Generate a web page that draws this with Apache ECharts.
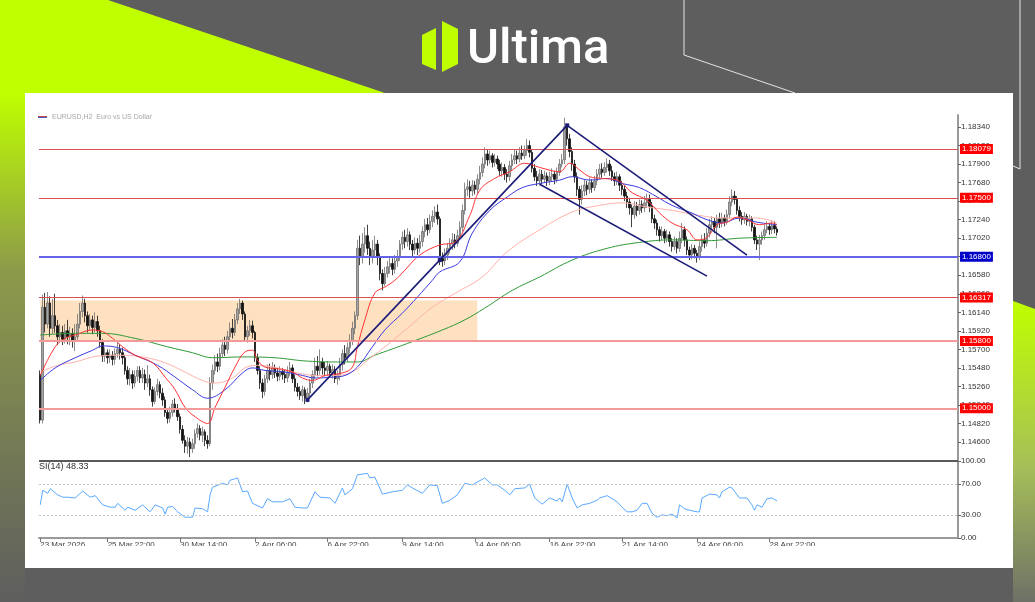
<!DOCTYPE html>
<html>
<head>
<meta charset="utf-8">
<title>EURUSD H2</title>
<script src="https://cdn.jsdelivr.net/npm/echarts@6/dist/echarts.min.js"></script>
<style>
  html, body { margin: 0; padding: 0; background: #5e5e5e; }
  #main { width: 1035px; height: 602px; }
</style>
</head>
<body>
<div id="main"></div>
<script>
// candles, one per 2h bar
const opens = [
  1.1540,1.1486,1.1620,1.1600,1.1625,1.1595,1.1610,1.1598,1.1585,1.1590,
  1.1582,1.1592,1.1585,1.1588,1.1580,1.1585,1.1600,1.1615,1.1625,1.1610,
  1.1598,1.1605,1.1596,1.1603,1.1592,1.1578,1.1562,1.1566,1.1560,1.1563,
  1.1558,1.1565,1.1570,1.1566,1.1560,1.1545,1.1535,1.1540,1.1530,1.1538,
  1.1545,1.1536,1.1540,1.1530,1.1535,1.1522,1.1508,1.1520,1.1528,1.1518,
  1.1510,1.1495,1.1488,1.1495,1.1505,1.1500,1.1490,1.1475,1.1462,1.1455,
  1.1460,1.1452,1.1458,1.1470,1.1476,1.1468,1.1472,1.1462,1.1458,1.1530,
  1.1545,1.1555,1.1550,1.1565,1.1575,1.1570,1.1585,1.1595,1.1590,1.1605,
  1.1618,1.1625,1.1612,1.1585,1.1592,1.1598,1.1590,1.1560,1.1545,1.1530,
  1.1520,1.1535,1.1545,1.1540,1.1548,1.1542,1.1538,1.1544,1.1540,1.1536,
  1.1543,1.1548,1.1535,1.1525,1.1520,1.1515,1.1522,1.1512,1.1518,1.1530,
  1.1540,1.1550,1.1545,1.1555,1.1548,1.1545,1.1550,1.1542,1.1546,1.1535,
  1.1540,1.1552,1.1565,1.1560,1.1572,1.1580,1.1595,1.1610,1.1690,1.1680,
  1.1695,1.1705,1.1690,1.1680,1.1688,1.1695,1.1680,1.1660,1.1648,1.1660,
  1.1668,1.1672,1.1665,1.1675,1.1680,1.1695,1.1703,1.1698,1.1706,1.1695,
  1.1688,1.1696,1.1690,1.1698,1.1710,1.1718,1.1712,1.1722,1.1728,1.1733,
  1.1725,1.1678,1.1675,1.1682,1.1690,1.1695,1.1700,1.1696,1.1705,1.1715,
  1.1735,1.1760,1.1763,1.1758,1.1765,1.1760,1.1772,1.1780,1.1790,1.1802,
  1.1795,1.1800,1.1792,1.1796,1.1790,1.1782,1.1786,1.1778,1.1775,1.1788,
  1.1795,1.1800,1.1796,1.1803,1.1800,1.1806,1.1812,1.1804,1.1785,1.1775,
  1.1770,1.1778,1.1772,1.1776,1.1770,1.1775,1.1778,1.1772,1.1780,1.1790,
  1.1795,1.1834,1.1820,1.1805,1.1790,1.1775,1.1760,1.1748,1.1758,1.1765,
  1.1760,1.1768,1.1762,1.1770,1.1778,1.1784,1.1780,1.1786,1.1790,1.1782,
  1.1775,1.1770,1.1775,1.1765,1.1760,1.1752,1.1745,1.1738,1.1730,1.1740,
  1.1735,1.1742,1.1738,1.1744,1.1748,1.1740,1.1725,1.1720,1.1712,1.1705,
  1.1710,1.1702,1.1706,1.1698,1.1692,1.1698,1.1690,1.1702,1.1712,1.1700,
  1.1688,1.1682,1.1690,1.1684,1.1680,1.1692,1.1700,1.1696,1.1708,1.1718,
  1.1722,1.1715,1.1725,1.1720,1.1726,1.1722,1.1730,1.1745,1.1752,1.1748,
  1.1735,1.1728,1.1724,1.1728,1.1722,1.1725,1.1715,1.1700,1.1695,1.1700,
  1.1705,1.1712,1.1716,1.1712,1.1717,1.1713
]
const closes = [
  1.1486,1.1620,1.1600,1.1625,1.1595,1.1610,1.1598,1.1585,1.1590,1.1582,
  1.1592,1.1585,1.1588,1.1580,1.1585,1.1600,1.1615,1.1625,1.1610,1.1598,
  1.1605,1.1596,1.1603,1.1592,1.1578,1.1562,1.1566,1.1560,1.1563,1.1558,
  1.1565,1.1570,1.1566,1.1560,1.1545,1.1535,1.1540,1.1530,1.1538,1.1545,
  1.1536,1.1540,1.1530,1.1535,1.1522,1.1508,1.1520,1.1528,1.1518,1.1510,
  1.1495,1.1488,1.1495,1.1505,1.1500,1.1490,1.1475,1.1462,1.1455,1.1460,
  1.1452,1.1458,1.1470,1.1476,1.1468,1.1472,1.1462,1.1458,1.1530,1.1545,
  1.1555,1.1550,1.1565,1.1575,1.1570,1.1585,1.1595,1.1590,1.1605,1.1618,
  1.1625,1.1612,1.1585,1.1592,1.1598,1.1590,1.1560,1.1545,1.1530,1.1520,
  1.1535,1.1545,1.1540,1.1548,1.1542,1.1538,1.1544,1.1540,1.1536,1.1543,
  1.1548,1.1535,1.1525,1.1520,1.1515,1.1522,1.1512,1.1518,1.1530,1.1540,
  1.1550,1.1545,1.1555,1.1548,1.1545,1.1550,1.1542,1.1546,1.1535,1.1540,
  1.1552,1.1565,1.1560,1.1572,1.1580,1.1595,1.1610,1.1690,1.1680,1.1695,
  1.1705,1.1690,1.1680,1.1688,1.1695,1.1680,1.1660,1.1648,1.1660,1.1668,
  1.1672,1.1665,1.1675,1.1680,1.1695,1.1703,1.1698,1.1706,1.1695,1.1688,
  1.1696,1.1690,1.1698,1.1710,1.1718,1.1712,1.1722,1.1728,1.1733,1.1725,
  1.1678,1.1675,1.1682,1.1690,1.1695,1.1700,1.1696,1.1705,1.1715,1.1735,
  1.1760,1.1763,1.1758,1.1765,1.1760,1.1772,1.1780,1.1790,1.1802,1.1795,
  1.1800,1.1792,1.1796,1.1790,1.1782,1.1786,1.1778,1.1775,1.1788,1.1795,
  1.1800,1.1796,1.1803,1.1800,1.1806,1.1812,1.1804,1.1785,1.1775,1.1770,
  1.1778,1.1772,1.1776,1.1770,1.1775,1.1778,1.1772,1.1780,1.1790,1.1795,
  1.1834,1.1820,1.1805,1.1790,1.1775,1.1760,1.1748,1.1758,1.1765,1.1760,
  1.1768,1.1762,1.1770,1.1778,1.1784,1.1780,1.1786,1.1790,1.1782,1.1775,
  1.1770,1.1775,1.1765,1.1760,1.1752,1.1745,1.1738,1.1730,1.1740,1.1735,
  1.1742,1.1738,1.1744,1.1748,1.1740,1.1725,1.1720,1.1712,1.1705,1.1710,
  1.1702,1.1706,1.1698,1.1692,1.1698,1.1690,1.1702,1.1712,1.1700,1.1688,
  1.1682,1.1690,1.1684,1.1680,1.1692,1.1700,1.1696,1.1708,1.1718,1.1722,
  1.1715,1.1725,1.1720,1.1726,1.1722,1.1730,1.1745,1.1752,1.1748,1.1735,
  1.1728,1.1724,1.1728,1.1722,1.1725,1.1715,1.1700,1.1695,1.1700,1.1705,
  1.1712,1.1716,1.1712,1.1717,1.1713,1.1709
]
const lows = [
  1.1482,1.1482,1.1590,1.1595,1.1585,1.1588,1.1590,1.1575,1.1578,1.1575,
  1.1577,1.1576,1.1575,1.1572,1.1568,1.1580,1.1595,1.1608,1.1602,1.1590,
  1.1592,1.1588,1.1590,1.1585,1.1572,1.1555,1.1555,1.1553,1.1554,1.1551,
  1.1552,1.1560,1.1558,1.1552,1.1540,1.1528,1.1527,1.1523,1.1525,1.1532,
  1.1530,1.1530,1.1522,1.1525,1.1515,1.1502,1.1505,1.1515,1.1512,1.1503,
  1.1490,1.1482,1.1483,1.1490,1.1495,1.1485,1.1470,1.1458,1.1447,1.1446,
  1.1442,1.1447,1.1452,1.1465,1.1462,1.1460,1.1455,1.1452,1.1455,1.1522,
  1.1540,1.1543,1.1545,1.1560,1.1562,1.1565,1.1580,1.1583,1.1586,1.1600,
  1.1612,1.1605,1.1580,1.1578,1.1586,1.1583,1.1555,1.1540,1.1523,1.1512,
  1.1515,1.1530,1.1533,1.1535,1.1536,1.1532,1.1533,1.1534,1.1530,1.1531,
  1.1538,1.1530,1.1520,1.1514,1.1510,1.1508,1.1505,1.1507,1.1513,1.1524,
  1.1535,1.1538,1.1540,1.1540,1.1538,1.1538,1.1536,1.1535,1.1530,1.1528,
  1.1533,1.1545,1.1552,1.1555,1.1565,1.1575,1.1588,1.1605,1.1670,1.1672,
  1.1685,1.1682,1.1670,1.1672,1.1680,1.1670,1.1652,1.1640,1.1645,1.1655,
  1.1660,1.1658,1.1660,1.1668,1.1675,1.1688,1.1690,1.1692,1.1688,1.1680,
  1.1683,1.1682,1.1685,1.1692,1.1703,1.1705,1.1708,1.1715,1.1720,1.1718,
  1.1670,1.1668,1.1670,1.1676,1.1684,1.1688,1.1690,1.1692,1.1700,1.1710,
  1.1730,1.1752,1.1750,1.1752,1.1754,1.1755,1.1766,1.1775,1.1785,1.1788,
  1.1790,1.1786,1.1787,1.1784,1.1776,1.1775,1.1771,1.1768,1.1770,1.1782,
  1.1790,1.1790,1.1792,1.1795,1.1796,1.1800,1.1798,1.1780,1.1770,1.1764,
  1.1765,1.1766,1.1768,1.1764,1.1765,1.1770,1.1766,1.1768,1.1776,1.1786,
  1.1790,1.1812,1.1798,1.1782,1.1768,1.1752,1.1730,1.1742,1.1752,1.1753,
  1.1755,1.1756,1.1758,1.1765,1.1772,1.1774,1.1776,1.1780,1.1776,1.1770,
  1.1764,1.1765,1.1758,1.1753,1.1746,1.1738,1.1730,1.1715,1.1725,1.1728,
  1.1730,1.1732,1.1733,1.1738,1.1733,1.1720,1.1713,1.1705,1.1698,1.1700,
  1.1696,1.1697,1.1692,1.1686,1.1688,1.1684,1.1686,1.1696,1.1692,1.1682,
  1.1676,1.1677,1.1678,1.1673,1.1676,1.1686,1.1690,1.1692,1.1703,1.1712,
  1.1708,1.1690,1.1714,1.1715,1.1716,1.1718,1.1725,1.1740,1.1742,1.1730,
  1.1722,1.1718,1.1719,1.1717,1.1716,1.1710,1.1695,1.1688,1.1676,1.1694,
  1.1700,1.1708,1.1706,1.1707,1.1708,1.1705
]
const highs = [
  1.1545,1.1635,1.1637,1.1638,1.1633,1.1630,1.1636,1.1605,1.1600,1.1598,
  1.1600,1.1605,1.1597,1.1595,1.1600,1.1612,1.1625,1.1634,1.1630,1.1615,
  1.1612,1.1610,1.1614,1.1610,1.1598,1.1582,1.1572,1.1570,1.1570,1.1568,
  1.1571,1.1578,1.1576,1.1572,1.1563,1.1550,1.1548,1.1545,1.1545,1.1550,
  1.1550,1.1548,1.1546,1.1551,1.1540,1.1526,1.1525,1.1535,1.1532,1.1524,
  1.1514,1.1500,1.1502,1.1510,1.1512,1.1505,1.1494,1.1480,1.1468,1.1466,
  1.1465,1.1464,1.1475,1.1482,1.1480,1.1478,1.1475,1.1468,1.1537,1.1552,
  1.1563,1.1565,1.1572,1.1582,1.1585,1.1592,1.1602,1.1606,1.1612,1.1625,
  1.1630,1.1628,1.1615,1.1598,1.1605,1.1604,1.1592,1.1565,1.1550,1.1535,
  1.1540,1.1552,1.1553,1.1555,1.1552,1.1548,1.1550,1.1548,1.1546,1.1550,
  1.1555,1.1552,1.1540,1.1530,1.1526,1.1527,1.1525,1.1524,1.1535,1.1545,
  1.1560,1.1562,1.1570,1.1560,1.1555,1.1556,1.1553,1.1552,1.1550,1.1545,
  1.1560,1.1570,1.1575,1.1578,1.1588,1.1603,1.1615,1.1700,1.1705,1.1708,
  1.1715,1.1718,1.1698,1.1700,1.1705,1.1700,1.1684,1.1665,1.1668,1.1675,
  1.1680,1.1678,1.1682,1.1688,1.1700,1.1710,1.1712,1.1714,1.1710,1.1700,
  1.1703,1.1702,1.1706,1.1716,1.1725,1.1726,1.1730,1.1735,1.1740,1.1742,
  1.1728,1.1685,1.1690,1.1696,1.1702,1.1708,1.1707,1.1712,1.1722,1.1742,
  1.1768,1.1772,1.1770,1.1771,1.1770,1.1778,1.1788,1.1798,1.1810,1.1808,
  1.1806,1.1803,1.1802,1.1800,1.1795,1.1792,1.1790,1.1784,1.1794,1.1802,
  1.1808,1.1806,1.1810,1.1812,1.1812,1.1820,1.1818,1.1808,1.1790,1.1782,
  1.1784,1.1783,1.1782,1.1780,1.1781,1.1785,1.1782,1.1786,1.1796,1.1802,
  1.1845,1.1838,1.1826,1.1810,1.1795,1.1780,1.1764,1.1765,1.1772,1.1770,
  1.1774,1.1772,1.1776,1.1784,1.1790,1.1791,1.1792,1.1797,1.1795,1.1788,
  1.1780,1.1781,1.1778,1.1770,1.1765,1.1757,1.1750,1.1742,1.1746,1.1745,
  1.1748,1.1747,1.1752,1.1755,1.1754,1.1745,1.1730,1.1724,1.1716,1.1716,
  1.1713,1.1712,1.1710,1.1702,1.1704,1.1702,1.1710,1.1720,1.1716,1.1704,
  1.1692,1.1695,1.1694,1.1688,1.1698,1.1706,1.1708,1.1714,1.1725,1.1728,
  1.1726,1.1730,1.1732,1.1732,1.1730,1.1736,1.1752,1.1760,1.1758,1.1752,
  1.1740,1.1733,1.1733,1.1731,1.1730,1.1728,1.1718,1.1705,1.1706,1.1710,
  1.1718,1.1722,1.1720,1.1723,1.1722,1.1716
]

// moving averages, sampled [bar, price]
const maFast = [[0,1.1539],[6,1.1573],[10,1.1583],[14,1.1587],[21,1.1593],[25,1.1591],[29,1.1583],[33,1.1573],[38,1.1563],[45,1.1554],[50,1.1537],[54,1.1522],[58,1.1501],[62,1.1490],[67,1.1482],[70,1.1501],[74,1.1525],[78,1.1549],[82,1.1567],[85,1.1569],[87,1.1557],[90,1.1549],[95,1.1547],[101,1.1543],[105,1.1536],[109,1.1533],[114,1.1539],[121,1.1542],[125,1.1549],[127,1.1573],[130,1.1605],[134,1.1637],[138,1.1644],[142,1.1652],[146,1.1664],[152,1.1682],[160,1.1694],[166,1.1697],[172,1.1729],[176,1.1759],[182,1.1773],[188,1.1781],[194,1.1791],[200,1.1786],[208,1.1781],[212,1.1791],[216,1.1783],[220,1.1775],[225,1.1773],[231,1.1771],[237,1.1756],[243,1.1747],[248,1.1732],[253,1.1720],[259,1.1712],[263,1.1700],[267,1.1703],[271,1.1718],[275,1.1721],[279,1.1727],[283,1.1724],[288,1.1718],[293,1.1720],[295,1.1718]]
const maMid = [[0,1.1533],[6,1.1548],[14,1.1560],[21,1.1569],[25,1.1574],[31,1.1572],[38,1.1563],[47,1.1551],[54,1.1537],[61,1.1522],[67,1.1512],[74,1.1522],[81,1.1542],[85,1.1548],[90,1.1545],[98,1.1543],[105,1.1539],[110,1.1536],[117,1.1537],[122,1.1539],[127,1.1549],[133,1.1573],[138,1.1593],[145,1.1613],[151,1.1632],[157,1.1652],[160,1.1662],[168,1.1674],[173,1.1708],[180,1.1735],[187,1.1751],[193,1.1762],[200,1.1767],[208,1.1771],[213,1.1775],[220,1.1771],[227,1.1773],[233,1.1767],[240,1.1762],[247,1.1751],[253,1.1741],[260,1.1733],[267,1.1724],[273,1.1720],[280,1.1726],[287,1.1721],[295,1.1718]]
const maSlow = [[0,1.1543],[7,1.1551],[14,1.1555],[23,1.1562],[31,1.1563],[41,1.1561],[50,1.1554],[58,1.1543],[65,1.1533],[70,1.1530],[77,1.1536],[82,1.1548],[87,1.1551],[95,1.1548],[103,1.1542],[111,1.1539],[119,1.1539],[126,1.1545],[131,1.1557],[138,1.1573],[147,1.1595],[157,1.1620],[167,1.1638],[177,1.1656],[187,1.1686],[200,1.1712],[213,1.1733],[224,1.1741],[233,1.1744],[243,1.1739],[253,1.1735],[264,1.1729],[273,1.1726],[287,1.1726],[295,1.1720]]
const maLong = [[0,1.1587],[14,1.1589],[25,1.1589],[38,1.1583],[51,1.1573],[61,1.1566],[69,1.1560],[81,1.1561],[94,1.1560],[107,1.1556],[121,1.1555],[127,1.1555],[134,1.1563],[147,1.1577],[161,1.1593],[170,1.1605],[178,1.1619],[189,1.1640],[200,1.1656],[213,1.1676],[227,1.1690],[240,1.1697],[253,1.1700],[267,1.1699],[280,1.1702],[295,1.1703]]

// RSI(14), sampled [bar, value]
const rsiPoints = [[0,43],[1,62],[3,58],[4,64],[7,56],[9,53],[11,53],[14,52],[17,61],[20,53],[22,55],[25,43],[28,40],[30,40],[31,45],[34,36],[35,40],[38,36],[41,43],[44,34],[46,43],[49,39],[50,31],[51,40],[53,41],[55,34],[58,27],[61,27],[62,39],[65,38],[67,34],[68,56],[69,66],[73,71],[75,69],[76,75],[79,78],[81,60],[83,61],[85,45],[89,39],[91,51],[93,47],[97,47],[100,51],[102,40],[105,39],[107,39],[110,60],[112,53],[116,52],[118,45],[121,65],[122,56],[125,64],[127,82],[131,84],[132,78],[134,79],[137,57],[141,60],[145,62],[147,69],[149,65],[153,58],[156,69],[159,68],[161,45],[164,49],[167,56],[170,71],[173,69],[178,78],[181,69],[183,69],[186,62],[188,56],[190,64],[194,65],[196,70],[198,52],[201,44],[204,52],[207,48],[208,52],[209,47],[211,70],[213,52],[215,39],[217,43],[220,45],[223,49],[224,52],[227,55],[231,47],[233,40],[235,34],[237,34],[239,36],[241,45],[243,45],[245,32],[247,27],[249,30],[251,29],[253,31],[255,26],[256,43],[258,38],[260,36],[263,34],[264,34],[265,52],[268,57],[271,56],[272,52],[273,60],[276,66],[277,65],[280,52],[283,52],[285,43],[286,36],[287,43],[289,40],[291,51],[293,52],[295,48.33]]

const priceTicks = [1.146, 1.1482, 1.1504, 1.1526, 1.1548, 1.157, 1.1592, 1.1614, 1.1636, 1.1658, 1.168, 1.1702, 1.1724, 1.1746, 1.1768, 1.179, 1.1812, 1.1834]
const rsiTicks = [0, 30, 70, 100]
const rsiBands = [30, 70]
const timeTickBars = [0, 27, 56, 86, 115, 145, 174, 204, 233, 263, 292]
const timeLabels = ['23 Mar 2026', '25 Mar 22:00', '30 Mar 14:00', '2 Apr 06:00', '6 Apr 22:00', '9 Apr 14:00', '14 Apr 06:00', '16 Apr 22:00', '21 Apr 14:00', '24 Apr 06:00', '28 Apr 22:00']

// support / resistance levels and drawn objects
const levels = [1.18079, 1.17500, 1.16800, 1.16317, 1.15800, 1.15000]
const trendLines = [
  [[107, 1.1510], [211, 1.1836]],
  [[211, 1.1836], [283, 1.1682]],
  [[200, 1.1766], [267, 1.1657]]
]
const anchorPoints = [[107, 1.1510], [160, 1.1676], [211, 1.1836]]
const zone = [[0, 1.1628], [175, 1.1580]]
const rsiLast = 48.33

const SLOTS = 368
const bars = Array.from({ length: SLOTS }, (_, i) => String(i))
const candleData = opens.map((o, i) => [o, closes[i], lows[i], highs[i]])
const tickIndex = {}
timeTickBars.forEach((b, k) => { tickIndex[b] = timeLabels[k] })

const levelStyle = [
  { line: '#d85050', width: 1, tag: '#ff0000' },
  { line: '#d85050', width: 1, tag: '#ff0000' },
  { line: '#6464e6', width: 2, tag: '#0000c8' },
  { line: '#d85050', width: 1, tag: '#ff0000' },
  { line: '#f29a9a', width: 2, tag: '#ff0000' },
  { line: '#f29a9a', width: 2, tag: '#ff0000' }
]

const levelLines = levels.map((p, k) => ({
  yAxis: p,
  lineStyle: { color: levelStyle[k].line, width: levelStyle[k].width, type: 'solid' },
  label: {
    show: true,
    position: 'end',
    distance: 2,
    formatter: p.toFixed(5),
    color: '#fff',
    backgroundColor: levelStyle[k].tag,
    fontFamily: 'Liberation Sans',
    fontSize: 8,
    lineHeight: 9,
    padding: [1, 2, 0, 2]
  }
}))

const navy = '#1c1c78'
const trendLineData = trendLines.map(seg => [
  { coord: seg[0], lineStyle: { color: navy, width: 1.6, type: 'solid' }, label: { show: false } },
  { coord: seg[1] }
])

const chart = echarts.init(document.getElementById('main'))

function maSeries (name, data, color) {
  return {
    name,
    type: 'line',
    xAxisIndex: 0,
    yAxisIndex: 0,
    data,
    smooth: 0.4,
    showSymbol: false,
    z: 4,
    lineStyle: { color, width: 1 },
    silent: true
  }
}

chart.setOption({
  animation: false,
  backgroundColor: '#5e5e5e',
  grid: [
    { left: 39, width: 919, top: 115, height: 345 },
    { left: 39, width: 919, top: 461, height: 77 }
  ],
  xAxis: [
    {
      type: 'category', gridIndex: 0, data: bars, boundaryGap: true,
      axisLine: { show: false }, axisTick: { show: false }, axisLabel: { show: false }, splitLine: { show: false }
    },
    {
      type: 'category', gridIndex: 1, data: bars, boundaryGap: true,
      axisLine: { show: true, lineStyle: { color: '#9a9a9a', width: 2 } },
      axisTick: { show: true, length: 4, alignWithLabel: true, interval: (i) => tickIndex[i] !== undefined, lineStyle: { color: '#777' } },
      axisLabel: {
        interval: (i) => tickIndex[i] !== undefined,
        formatter: (v, i) => tickIndex[i] || '',
        align: 'left',
        fontSize: 8,
        fontFamily: 'Liberation Sans',
        color: '#444',
        margin: 3
      },
      splitLine: { show: false }
    }
  ],
  yAxis: [
    {
      type: 'value', gridIndex: 0, position: 'right', min: 1.14386, max: 1.18483,
      axisLine: { show: true, lineStyle: { color: '#9a9a9a', width: 2 } },
      axisTick: { show: true, length: 3, customValues: priceTicks, lineStyle: { color: '#666' } },
      axisLabel: { customValues: priceTicks, formatter: v => v.toFixed(5), fontSize: 8, fontFamily: 'Liberation Sans', color: '#333', margin: 3 },
      splitLine: { show: false }
    },
    {
      type: 'value', gridIndex: 1, position: 'right', min: 0, max: 100,
      axisLine: { show: true, lineStyle: { color: '#9a9a9a', width: 2 } },
      axisTick: { show: true, length: 3, customValues: rsiTicks, lineStyle: { color: '#666' } },
      axisLabel: { customValues: rsiTicks, formatter: v => v.toFixed(2), fontSize: 8, fontFamily: 'Liberation Sans', color: '#333', margin: 3 },
      splitLine: { show: false }
    }
  ],
  series: [
    {
      name: 'EURUSD',
      type: 'candlestick',
      xAxisIndex: 0,
      yAxisIndex: 0,
      data: candleData,
      barWidth: 2,
      z: 2,
      silent: true,
      itemStyle: {
        color: '#a4a4a4',
        color0: '#111111',
        borderColor: '#707070',
        borderColor0: '#111111',
        borderWidth: 0.8
      },
      markArea: {
        silent: true,
        itemStyle: { color: '#fde1c1' },
        data: [[{ coord: zone[0] }, { coord: zone[1] }]]
      },
      markLine: {
        silent: true,
        precision: 5,
        symbol: ['none', 'none'],
        animation: false,
        data: levelLines.concat(trendLineData)
      },
      markPoint: {
        silent: true,
        symbol: 'rect',
        symbolSize: 4,
        label: { show: false },
        itemStyle: { color: navy },
        data: anchorPoints.map(c => ({ coord: c }))
      }
    },
    maSeries('MA long', maLong, '#2f9a35'),
    maSeries('MA slow', maSlow, '#ffb2aa'),
    maSeries('MA mid', maMid, '#3a3ae0'),
    maSeries('MA fast', maFast, '#ff3434'),
    {
      name: 'RSI(14)',
      type: 'line',
      xAxisIndex: 1,
      yAxisIndex: 1,
      data: rsiPoints,
      showSymbol: false,
      silent: true,
      lineStyle: { color: '#5aa9ff', width: 1 },
      markLine: {
        silent: true,
        precision: 2,
        symbol: ['none', 'none'],
        label: { show: false },
        lineStyle: { color: '#c8c8c8', type: [2, 2], width: 1 },
        data: rsiBands.map(v => ({ yAxis: v }))
      }
    }
  ],
  graphic: [
    { type: 'rect', z: -20, shape: { x: 0, y: 0, width: 1035, height: 602 }, style: { fill: '#5e5e5e' } },
    { type: 'polygon', z: -19, shape: { points: [[0, 0], [108, 0], [385, 93], [0, 93]] }, style: { fill: '#bfff00' } },
    {
      type: 'rect', z: -19, shape: { x: 0, y: 93, width: 25, height: 509 },
      style: { fill: new echarts.graphic.LinearGradient(0, 0, 0, 1, [{ offset: 0, color: '#bfff00' }, { offset: 0.35, color: '#8c9a4a' }, { offset: 1, color: '#5e5e5e' }]) }
    },
    {
      type: 'polygon', z: -19, shape: { points: [[1013, 301], [1035, 309], [1035, 602], [1013, 602]] },
      style: { fill: new echarts.graphic.LinearGradient(0, 0, 0, 1, [{ offset: 0, color: '#c0ff00' }, { offset: 0.55, color: '#a6bf58' }, { offset: 1, color: '#6e7166' }]) }
    },
    { type: 'polyline', z: -18, shape: { points: [[684, 0], [684, 55], [795, 93]] }, style: { stroke: '#e4e4e4', lineWidth: 1, fill: null } },
    { type: 'polyline', z: -18, shape: { points: [[1020, 0], [1020, 169], [1013, 166]] }, style: { stroke: '#e4e4e4', lineWidth: 1, fill: null } },
    { type: 'rect', z: -17, shape: { x: 25, y: 93, width: 988, height: 475 }, style: { fill: '#ffffff' } },
    { type: 'polygon', z: 1, shape: { points: [[422, 35], [436, 28], [436, 70], [422, 64]] }, style: { fill: '#bfff00' } },
    { type: 'polygon', z: 1, shape: { points: [[442, 21], [458, 29], [458, 64], [442, 72]] }, style: { fill: '#bfff00' } },
    { type: 'text', z: 1, style: { text: 'Ultima', x: 467, y: 51, fill: '#ffffff', font: '500 49px Roboto', textVerticalAlign: 'middle' } },
    { type: 'rect', z: 1, shape: { x: 38, y: 116, width: 9, height: 1 }, style: { fill: '#d04040' } },
    { type: 'rect', z: 1, shape: { x: 38, y: 117, width: 9, height: 1 }, style: { fill: '#4060d0' } },
    { type: 'text', z: 1, style: { text: 'EURUSD,H2  Euro vs US Dollar', x: 52, y: 117, fill: '#a8a8a8', font: '7px "Liberation Sans"', textVerticalAlign: 'middle' } },
    { type: 'text', z: 6, style: { text: 'SI(14) ' + rsiLast.toFixed(2), x: 39, y: 467, fill: '#333', font: '9px "Liberation Sans"', textVerticalAlign: 'middle' } },
    { type: 'line', z: 6, shape: { x1: 39, y1: 461, x2: 958, y2: 461 }, style: { stroke: '#5a5a5a', lineWidth: 2 } },
    { type: 'rect', z: 100, shape: { x: 26, y: 546, width: 986, height: 22 }, style: { fill: '#ffffff' } }
  ]
})
</script>
</body>
</html>
